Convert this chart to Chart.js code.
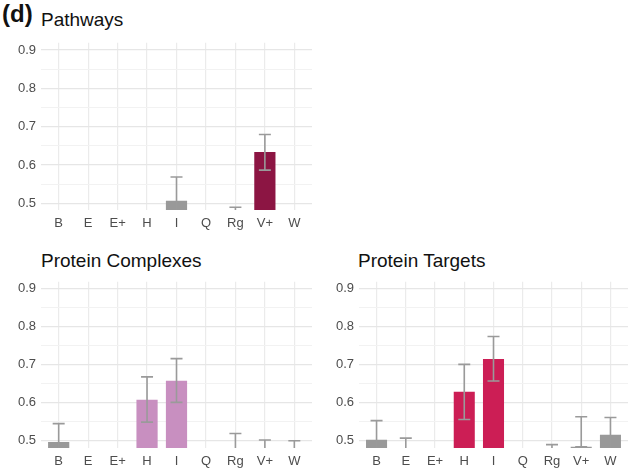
<!DOCTYPE html>
<html>
<head>
<meta charset="utf-8">
<script src="https://cdn.jsdelivr.net/npm/chart.js@4"></script>
<style>
  body { margin: 0; background: #fff; width: 633px; height: 471px; position: relative; overflow: hidden;
         font-family: "Liberation Sans", Arial, sans-serif; }
  .panel { position: absolute; }
  .title { position: absolute; font-size: 19px; color: #111; white-space: nowrap; }
  .tag { position: absolute; left: 2px; top: 0px; font-size: 24px; font-weight: bold; color: #111; }
</style>
</head>
<body>
<div class="tag">(d)</div>
<div class="title" style="left:41px; top:9px;">Pathways</div>
<div class="title" style="left:41px; top:250px;">Protein Complexes</div>
<div class="title" style="left:358px; top:250px;">Protein Targets</div>

<div class="panel" style="left:0; top:30px; width:316px; height:205px;"><canvas id="pathways"></canvas></div>
<div class="panel" style="left:0; top:269px; width:316px; height:202px;"><canvas id="complexes"></canvas></div>
<div class="panel" style="left:317px; top:269px; width:316px; height:202px;"><canvas id="targets"></canvas></div>

<script>
// categories shared by all panels
const methods = ["B", "E", "E+", "H", "I", "Q", "Rg", "V+", "W"];
const yTicks = [0.5, 0.6, 0.7, 0.8, 0.9];
const yGrid = [0.5, 0.55, 0.6, 0.65, 0.7, 0.75, 0.8, 0.85, 0.9];

// bar values (null = nothing drawn above the axis floor)
const pathwaysVal = [null, null, null, null, 0.507, null, 0.44, 0.634, null];
const pathwaysLo  = [null, null, null, null, 0.446, null, 0.39, 0.587, null];
const pathwaysHi  = [null, null, null, null, 0.569, null, 0.49, 0.680, null];
const pathwaysCol = ["#999999", "#999999", "#999999", "#999999", "#999999", "#999999", "#999999", "#8c1543", "#999999"];

const complexesVal = [0.497, null, null, 0.608, 0.658, null, 0.45, 0.44, 0.44];
const complexesLo  = [0.449, null, null, 0.549, 0.601, null, 0.38, 0.38, 0.38];
const complexesHi  = [0.545, null, null, 0.668, 0.716, null, 0.519, 0.502, 0.500];
const complexesCol = ["#999999", "#999999", "#999999", "#c88fc0", "#c88fc0", "#999999", "#999999", "#999999", "#999999"];

const targetsVal = [0.503, 0.45, null, 0.629, 0.715, null, 0.44, 0.484, 0.516];
const targetsLo  = [0.453, 0.39, null, 0.556, 0.657, null, 0.39, 0.484, 0.471];
const targetsHi  = [0.553, 0.507, null, 0.701, 0.774, null, 0.490, 0.563, 0.561];
const targetsCol = ["#999999", "#999999", "#999999", "#cc1e55", "#cc1e55", "#999999", "#999999", "#999999", "#999999"];

const isMajor = (v) => yTicks.some(t => Math.abs(t - v) < 1e-6);

// draws the error bars from the lo/hi arrays, clipped to the plot area
const errorBars = {
  id: "errorBars",
  afterDatasetsDraw(chart) {
    const { ctx, chartArea, scales } = chart;
    const lo = chart.options.plugins.errorBars.lo;
    const hi = chart.options.plugins.errorBars.hi;
    ctx.save();
    ctx.beginPath();
    ctx.rect(chartArea.left, chartArea.top, chartArea.right - chartArea.left, chartArea.bottom - chartArea.top);
    ctx.clip();
    ctx.strokeStyle = "#9a9a9a";
    ctx.lineWidth = 1.6;
    lo.forEach((l, i) => {
      if (l === null || hi[i] === null) return;
      const x = scales.x.getPixelForValue(i);
      const y1 = scales.y.getPixelForValue(l);
      const y2 = scales.y.getPixelForValue(hi[i]);
      ctx.beginPath();
      ctx.moveTo(x, y1); ctx.lineTo(x, y2);
      ctx.moveTo(x - 6, y1); ctx.lineTo(x + 6, y1);
      ctx.moveTo(x - 6, y2); ctx.lineTo(x + 6, y2);
      ctx.stroke();
    });
    ctx.restore();
  }
};

const makeChart = (id, values, lo, hi, colors, yRange, xHeight, pad) => {
  return new Chart(document.getElementById(id), {
    type: "bar",
    data: {
      datasets: [{
        data: values.map((v, i) => ({ x: i, y: v })),
        backgroundColor: colors,
        borderWidth: 0,
        barPercentage: 0.72,
        categoryPercentage: 1
      }]
    },
    options: {
      responsive: true,
      maintainAspectRatio: false,
      animation: false,
      layout: { padding: pad },
      plugins: {
        legend: { display: false },
        tooltip: { enabled: false },
        errorBars: { lo, hi }
      },
      scales: {
        x: {
          type: "linear",
          offset: false,
          min: -0.6,
          max: methods.length - 0.4,
          border: { display: false },
          afterBuildTicks: (axis) => { axis.ticks = methods.map((m, i) => ({ value: i })); },
          grid: { offset: false, color: "#ebebeb", lineWidth: 1.2, drawTicks: false },
          ticks: {
            color: "#4d4d4d", font: { size: 13, family: "Liberation Sans" }, padding: 6, maxRotation: 0,
            autoSkip: false,
            callback: (v) => methods[v]
          },
          afterFit: (axis) => { axis.height = xHeight; }
        },
        y: {
          min: yRange[0],
          max: yRange[1],
          border: { display: false },
          afterBuildTicks: (axis) => { axis.ticks = yGrid.map(v => ({ value: v })); },
          grid: {
            drawTicks: false,
            color: (c) => isMajor(c.tick.value) ? "#e6e6e6" : "#f2f2f2",
            lineWidth: (c) => isMajor(c.tick.value) ? 1.3 : 1
          },
          ticks: {
            color: "#4d4d4d",
            font: { size: 13, family: "Liberation Sans" },
            padding: 5,
            callback: (v) => isMajor(v) ? v.toFixed(1) : ""
          },
          afterFit: (axis) => { axis.width = 41; }
        }
      }
    },
    plugins: [errorBars]
  });
};

makeChart("pathways", pathwaysVal, pathwaysLo, pathwaysHi, pathwaysCol, [0.483, 0.919], 25, { top: 10, right: 4, left: 0, bottom: 0 });
makeChart("complexes", complexesVal, complexesLo, complexesHi, complexesCol, [0.481, 0.918], 23, { top: 10, right: 4, left: 0, bottom: 0 });
makeChart("targets", targetsVal, targetsLo, targetsHi, targetsCol, [0.481, 0.918], 23, { top: 10, right: 5, left: 1, bottom: 0 });
</script>
</body>
</html>
